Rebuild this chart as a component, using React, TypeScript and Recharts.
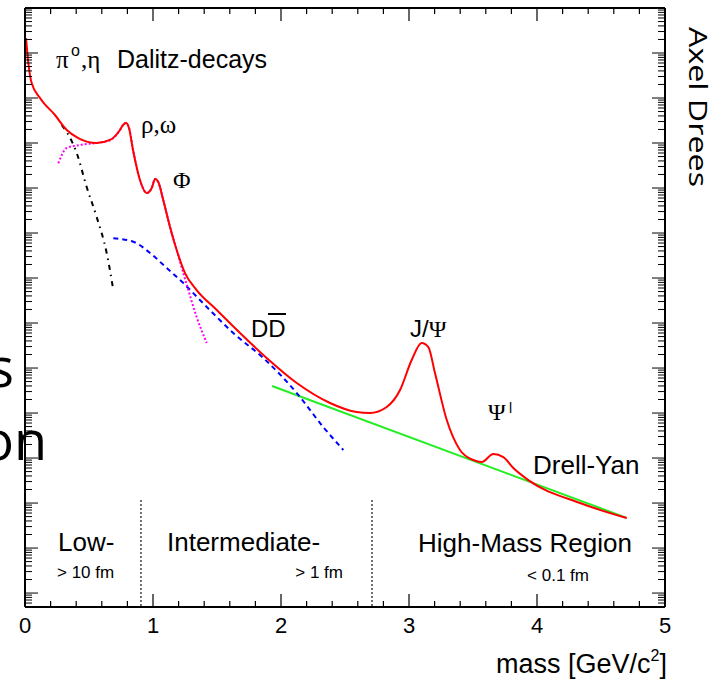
import React from "react";
import { LineChart, Line, XAxis, YAxis, ReferenceLine } from "recharts";

const W = 726;
const H = 681;
const PLOT_W = 640;
const PLOT_H = 599;
const SANS = "'Liberation Sans', Arial, sans-serif";
const SERIF = "'Liberation Serif', 'Times New Roman', serif";
const Y_MIN = 4.9e-14;
const Y_MAX = 1;

// total cocktail (red)
const sumMass = [
  0.008, 0.026, 0.052, 0.117, 0.234, 0.326, 0.416, 0.56, 0.664, 0.742, 0.766, 0.789, 0.8125,
  0.844, 0.898, 0.951, 0.99, 1.016, 1.041, 1.08, 1.133, 1.185, 1.25, 1.341, 1.498, 1.68,
  1.888, 2.123, 2.383, 2.591, 2.695, 2.826, 2.93, 3.021, 3.099, 3.151, 3.203, 3.295, 3.398,
  3.502, 3.568, 3.659, 3.737, 3.815, 3.932, 4.336, 4.701,
];
const sumYield = [
  2.15e-1, 6.0e-2, 2.15e-2, 1.0e-2, 4.19e-3, 1.95e-3, 1.29e-3, 1.0e-3, 1.17e-3, 1.95e-3, 2.51e-3, 2.78e-3, 2.15e-3,
  6.98e-4, 1.51e-4, 7.74e-5, 1.0e-4, 1.58e-4, 1.36e-4, 5.41e-5, 1.36e-5, 4.19e-6, 1.29e-6, 5.41e-7, 1.95e-7, 6.0e-8,
  1.67e-8, 4.64e-9, 1.67e-9, 1.05e-9, 1.0e-9, 1.36e-9, 3.24e-9, 1.51e-8, 3.6e-8, 2.93e-8, 7.74e-9, 6.98e-10, 1.51e-10,
  9.04e-11, 8.15e-11, 1.23e-10, 1.05e-10, 6.0e-11, 3.24e-11, 1.0e-11, 4.64e-12,
];

// open charm DDbar (blue dashed)
const charmMass = [0.69, 0.846, 0.977, 1.107, 1.237, 1.367, 1.498, 1.627, 1.862, 2.123, 2.33, 2.487];
const charmYield = [7.62e-6, 6.41e-6, 3.6e-6, 1.67e-6, 7.74e-7, 3.24e-7, 1.36e-7, 6.0e-8, 1.67e-8, 2.78e-9, 4.89e-10, 1.51e-10];

// Dalitz decays (black dash-dot)
const dalitzMass = [0.287, 0.326, 0.404, 0.482, 0.56, 0.638, 0.69];
const dalitzYield = [2.51e-3, 1.75e-3, 6.0e-4, 1.05e-4, 2.27e-5, 3.6e-6, 5.41e-7];

// vector mesons rho, omega, phi (magenta dotted)
const vectorMass = [
  0.26, 0.326, 0.43, 0.573, 0.664, 0.742, 0.766, 0.789, 0.8125, 0.844, 0.898, 0.951, 0.99,
  1.016, 1.041, 1.08, 1.133, 1.185, 1.237, 1.276, 1.341, 1.42,
];
const vectorYield = [
  3.54e-4, 7.74e-4, 9.04e-4, 1.02e-3, 1.15e-3, 1.95e-3, 2.51e-3, 2.78e-3, 2.15e-3, 6.98e-4, 1.51e-4, 7.74e-5, 1.0e-4,
  1.58e-4, 1.36e-4, 5.41e-5, 1.36e-5, 4.19e-6, 1.29e-6, 5.41e-7, 1.36e-7, 3.6e-8,
];

// Drell-Yan (green)
const dyMass = [1.93, 4.7];
const dyYield = [3.98e-9, 4.68e-12];

// region boundaries
const regionEdges = [0.906, 2.711];
const regionTop = 1.15e-11;

const xTicks = [
  0, 0.2, 0.4, 0.6, 0.8, 1, 1.2, 1.4, 1.6, 1.8, 2, 2.2, 2.4, 2.6, 2.8, 3, 3.2, 3.4, 3.6, 3.8, 4,
  4.2, 4.4, 4.6, 4.8, 5,
];
const yTicks: number[] = [];
for (let d = -14; d < 0; d++) {
  for (let k = 1; k < 10; k++) {
    const v = k * Math.pow(10, d);
    if (v >= Y_MIN) yTicks.push(v);
  }
}
yTicks.push(1);

const zip = (xs: number[], ys: number[]) => xs.map((x, i) => ({ x, y: ys[i] }));

const XTick = (props: any) => {
  const { x, y, payload } = props;
  const v = payload.value;
  const major = Math.abs(v - Math.round(v)) < 1e-6;
  const len = major ? 13 : 6;
  return (
    <g>
      <line x1={x} x2={x} y1={y} y2={y - len} stroke="#000" strokeWidth={1.2} />
      <line x1={x} x2={x} y1={y - PLOT_H} y2={y - PLOT_H + len} stroke="#000" strokeWidth={1.2} />
      {major && (
        <text x={x} y={y + 26} textAnchor="middle" fontFamily={SANS} fontSize={22} fill="#000">
          {Math.round(v)}
        </text>
      )}
    </g>
  );
};

const YTick = (props: any) => {
  const { x, y, payload } = props;
  const lg = Math.log10(payload.value);
  const major = Math.abs(lg - Math.round(lg)) < 1e-6;
  const len = major ? 13 : 7;
  return (
    <g>
      <line x1={x} x2={x + len} y1={y} y2={y} stroke="#000" strokeWidth={1} />
      <line x1={x + PLOT_W} x2={x + PLOT_W - len} y1={y} y2={y} stroke="#000" strokeWidth={1} />
    </g>
  );
};

const axisStroke = { stroke: "#000", strokeWidth: 2 };

export default function App() {
  return (
    <div style={{ position: "fixed", left: 0, top: 0, width: W, height: H, background: "#fff" }}>
      <LineChart width={W} height={H} margin={{ top: 0, right: 0, bottom: 0, left: 0 }}>
        <XAxis
          dataKey="x"
          type="number"
          domain={[0, 5]}
          allowDataOverflow
          ticks={xTicks}
          interval={0}
          tickSize={0}
          tickMargin={0}
          tickLine={false}
          axisLine={axisStroke}
          tick={<XTick />}
          height={74}
        />
        <XAxis xAxisId="top" orientation="top" type="number" domain={[0, 5]} height={8} tick={false} tickLine={false} axisLine={axisStroke} />
        <YAxis
          type="number"
          scale="log"
          domain={[Y_MIN, Y_MAX]}
          allowDataOverflow
          ticks={yTicks}
          interval={0}
          tickSize={0}
          tickMargin={0}
          tickLine={false}
          axisLine={axisStroke}
          tick={<YTick />}
          width={25}
        />
        <YAxis yAxisId="right" orientation="right" type="number" domain={[0, 1]} width={61} tick={false} tickLine={false} axisLine={axisStroke} />

        {regionEdges.map((m) => (
          <ReferenceLine
            key={m}
            segment={[{ x: m, y: regionTop }, { x: m, y: Y_MIN }]}
            stroke="#000"
            strokeWidth={1.5}
            strokeDasharray="1.5 2.5"
          />
        ))}

        <Line data={zip(dyMass, dyYield)} dataKey="y" type="linear" stroke="#22ee22" strokeWidth={2} dot={false} activeDot={false} isAnimationActive={false} />
        <Line data={zip(charmMass, charmYield)} dataKey="y" type="monotone" stroke="#0000ff" strokeWidth={2} strokeDasharray="5 4" dot={false} activeDot={false} isAnimationActive={false} />
        <Line data={zip(dalitzMass, dalitzYield)} dataKey="y" type="monotone" stroke="#000" strokeWidth={2} strokeDasharray="5 5 1.5 5" dot={false} activeDot={false} isAnimationActive={false} />
        <Line data={zip(vectorMass, vectorYield)} dataKey="y" type="monotone" stroke="#ff00ff" strokeWidth={2} strokeDasharray="2 2" dot={false} activeDot={false} isAnimationActive={false} />
        <Line data={zip(sumMass, sumYield)} dataKey="y" type="monotone" stroke="#ff0000" strokeWidth={2} dot={false} activeDot={false} isAnimationActive={false} />

        {/* annotations */}
        <g fill="#000">
          <text x={56} y={68} fontFamily={SERIF} fontSize={25}>π</text>
          <text x={71} y={56} fontFamily={SANS} fontSize={16}>o</text>
          <text x={81} y={68} fontFamily={SERIF} fontSize={25}>,η</text>
          <text x={117} y={68} fontFamily={SANS} fontSize={25}>Dalitz-decays</text>
          <text x={141} y={133} fontFamily={SERIF} fontSize={25}>ρ,ω</text>
          <text x={173} y={188} fontFamily={SERIF} fontSize={24}>Φ</text>
          <text x={251} y={337} fontFamily={SANS} fontSize={24}>DD</text>
          <line x1={268} x2={286} y1={314} y2={314} stroke="#000" strokeWidth={2} />
          <text x={410} y={337} fontFamily={SANS} fontSize={24}>J/<tspan fontFamily={SERIF}>Ψ</tspan></text>
          <text x={488} y={420} fontFamily={SERIF} fontSize={24}>Ψ</text>
          <text x={509} y={413} fontFamily={SANS} fontSize={14}>l</text>
          <text x={533} y={474} fontFamily={SANS} fontSize={26}>Drell-Yan</text>
          <text x={58} y={551} fontFamily={SANS} fontSize={26}>Low-</text>
          <text x={57} y={578} fontFamily={SANS} fontSize={17}>&gt; 10 fm</text>
          <text x={167} y={551} fontFamily={SANS} fontSize={26}>Intermediate-</text>
          <text x={343} y={578} textAnchor="end" fontFamily={SANS} fontSize={17}>&gt; 1 fm</text>
          <text x={418} y={552} fontFamily={SANS} fontSize={26}>High-Mass Region</text>
          <text x={589} y={581} textAnchor="end" fontFamily={SANS} fontSize={17}>&lt; 0.1 fm</text>
          <text x={667} y={673} textAnchor="end" fontFamily={SANS} fontSize={27}>
            mass [GeV/c<tspan fontSize={16} dy={-12}>2</tspan><tspan dy={12}>]</tspan>
          </text>
          <text x={689} y={27} transform="rotate(90 689 27)" fontFamily="'Open Sans', sans-serif" fontSize={25} textLength={160} lengthAdjust="spacingAndGlyphs">
            Axel Drees
          </text>
          <text x={14} y={387} textAnchor="end" fontFamily="'Open Sans', sans-serif" fontSize={54}>s</text>
          <text x={47} y={460} textAnchor="end" fontFamily="'Open Sans', sans-serif" fontSize={54}>on</text>
        </g>
      </LineChart>
    </div>
  );
}
